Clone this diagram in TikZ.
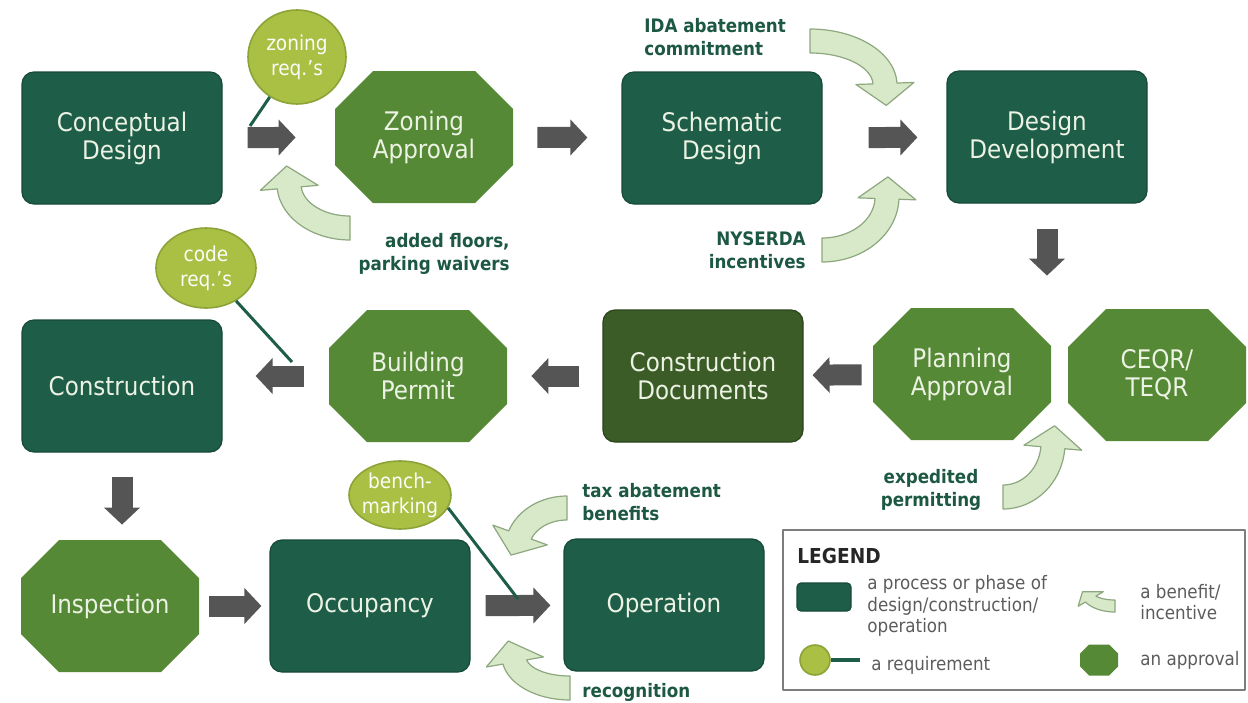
\documentclass[tikz,border=0pt]{standalone}
\usepackage{fontspec}
\setmainfont{DejaVu Sans Condensed}
\usepackage{tikz}
\usetikzlibrary{arrows.meta,positioning,calc,shapes.geometric}
\definecolor{Phase}{HTML}{1E5D48}
\definecolor{PhaseEdge}{HTML}{17493A}
\definecolor{Docs}{HTML}{3B5C27}
\definecolor{DocsEdge}{HTML}{2A441B}
\definecolor{Approval}{HTML}{558936}
\definecolor{Req}{HTML}{A9C045}
\definecolor{ReqEdge}{HTML}{8CA338}
\definecolor{Perk}{HTML}{D7E9C8}
\definecolor{PerkEdge}{HTML}{8DA77F}
\definecolor{Flow}{HTML}{555555}
\definecolor{Note}{HTML}{1D5843}
\definecolor{Pale}{HTML}{EDF3E4}
\definecolor{Key}{HTML}{5C5C5C}
\newcommand{\boxfont}{\fontsize{12.8}{14}\selectfont}
\newcommand{\notefont}{\fontsize{9.3}{11.6}\selectfont\bfseries}
\newcommand{\reqfont}{\fontsize{10.3}{12.6}\selectfont}
\newcommand{\keyfont}{\fontsize{9.3}{10.8}\selectfont}
\newcommand{\perkw}{12}
\newcommand{\perkh}{29}
\newcommand{\perkl}{22}
% curved benefit arrow on an ellipse: centre x, centre y, radii, start and end angle
\newcommand{\perk}[6]{%
  \filldraw[perk]
    plot[domain=#5:#6,samples=30] ({#1+(#3+\perkw)*cos(\x)},{#2+(#4+\perkw)*sin(\x)})
    -- ({#1+(#3+\perkh)*cos(#6)},{#2+(#4+\perkh)*sin(#6)})
    -- ({#1+#3*cos(#6)+(#6-#5)/abs(#6-#5)*\perkl*cos(atan2(#4*cos(#6),-#3*sin(#6)))},{#2+#4*sin(#6)+(#6-#5)/abs(#6-#5)*\perkl*sin(atan2(#4*cos(#6),-#3*sin(#6)))})
    -- ({#1+(#3-\perkh)*cos(#6)},{#2+(#4-\perkh)*sin(#6)})
    -- plot[domain=#6:#5,samples=30] ({#1+(#3-\perkw)*cos(\x)},{#2+(#4-\perkw)*sin(\x)})
    -- cycle;}
% octagon inside the box of an approval node, #1 = corner cut
\newcommand{\octagon}[1]{%
  \fill[Approval] ([xshift=#1]path picture bounding box.north west)
    -- ([xshift=-#1]path picture bounding box.north east)
    -- ([yshift=-#1]path picture bounding box.north east)
    -- ([yshift=#1]path picture bounding box.south east)
    -- ([xshift=-#1]path picture bounding box.south east)
    -- ([xshift=#1]path picture bounding box.south west)
    -- ([yshift=#1]path picture bounding box.south west)
    -- ([yshift=-#1]path picture bounding box.north west) -- cycle;}
\tikzset{
  phase/.style={rectangle,rounded corners=6pt,fill=Phase,draw=PhaseEdge,line width=0.6pt,minimum width=100pt,minimum height=66pt,text=Pale,font=\boxfont,align=center,inner sep=2pt},
  approval/.style={rectangle,minimum width=89pt,minimum height=66pt,inner sep=2pt,text=Pale,font=\boxfont,align=center,path picture={\octagon{#1}}},
  approval/.default=19pt,
  req/.style={ellipse,fill=Req,draw=ReqEdge,line width=0.8pt,text=white!96!Req,font=\reqfont,align=center,inner sep=-2pt},
  flow/.style={draw=Flow,line width=10.5pt,-{Triangle[length=8.5pt,width=17.5pt]}},
  tie/.style={draw=Phase,line width=1.5pt},
  perk/.style={fill=Perk,draw=PerkEdge,line width=0.6pt,line join=round},
  note/.style={font=\notefont,text=Note,inner sep=0pt},
  key/.style={font=\keyfont,text=Key,inner sep=0pt,align=left,anchor=west},
}

\begin{document}
\begin{tikzpicture}[x=0.5pt,y=-0.5pt,line join=round]
\useasboundingbox (0,0) rectangle (1248,702);

% benefits
\perk{350}{184}{61}{44}{90}{175}
\perk{810}{85}{75}{44}{270}{358}
\perk{822}{197}{65}{53}{90}{2}
\perk{1003}{443}{50}{54}{90}{5}
\perk{567}{549}{50}{41}{270}{200}
\perk{570}{656.5}{56}{31.5}{90}{170}

% phases and approvals
\node[phase] (concept) at (122,138) {Conceptual\\Design};
\node[approval] (zoning) at (424,137) {Zoning\\Approval};
\node[phase] (schematic) at (722,138) {Schematic\\Design};
\node[phase] (devel) at (1047,137) {Design\\Development};
\node[phase] (constr) at (122,386) {Construction};
\node[approval] (permit) at (418,376) {Building\\Permit};
\node[phase,fill=Docs,draw=DocsEdge] (docs) at (703,376) {Construction\\Documents};
\node[approval] (planning) at (962,374) {Planning\\Approval};
\node[approval] (ceqr) at (1157,375) {CEQR/\\TEQR};
\node[approval] (inspect) at (110,606) {Inspection};
\node[phase] (occup) at (370,606) {Occupancy};
\node[phase] (operation) at (664,605) {Operation};

\draw[flow,shorten <=12.5pt,shorten >=19.5pt] (concept) -- (zoning);
\draw[flow,shorten <=12pt,shorten >=17pt] (zoning) -- (schematic);
\draw[flow,shorten <=23pt,shorten >=14.5pt] (schematic) -- (devel);
\draw[flow,shorten <=12.5pt,shorten >=16pt] (devel.south) -- (devel.south |- planning.north);
\draw[flow,shorten <=5.5pt,shorten >=4.5pt] (planning) -- (docs);
\draw[flow,shorten <=11.5pt,shorten >=12pt] (docs) -- (permit);
\draw[flow,shorten <=12.5pt,shorten >=16.5pt] (permit.west) -- (permit.west -| constr.east);
\draw[flow,shorten <=12pt,shorten >=7.5pt] (constr.south) -- (constr.south |- inspect.north);
\draw[flow,shorten <=5pt,shorten >=4pt] (inspect) -- (occup);
\draw[flow,shorten <=7.5pt,shorten >=6.5pt] (occup) -- (operation);

% requirements
\node[req,minimum width=49pt,minimum height=47pt] (zonreq) at (297,57) {zoning\\req.’s};
\node[req,minimum width=50pt,minimum height=40pt] (codereq) at (206,268) {code\\req.’s};
\node[req,minimum width=51pt,minimum height=34pt] (bench) at (400,495) {bench-\\marking};
\coordinate (zr) at (250,126);
\coordinate (cr) at (292,362);
\coordinate (bm) at (518,599);
\draw[tie] (zonreq) -- (zr);
\draw[tie] (codereq) -- (cr);
\draw[tie] (bench.-15) -- (bm);

\node[note,anchor=west,align=left] (ida) at (644,37) {IDA abatement\\commitment};
\node[note,anchor=east,align=right] (nyserda) at (806,250) {NYSERDA\\incentives};
\node[note,anchor=east,align=right] (floors) at (510,254) {added floors,\\parking waivers};
\node[note,align=center] (expedite) at (931,490) {expedited\\permitting};
\node[note,anchor=west,align=left] (taxben) at (582,502) {tax abatement\\benefits};
\node[note,anchor=west] (recog) at (582,692) {recognition};

% legend
\draw[draw=Key!80,line width=0.8pt] (783,530) rectangle (1245,690);
\node[anchor=west,inner sep=0pt,font=\fontsize{10.3}{12}\selectfont\bfseries,text=black!85] (legtitle) at (797,556) {LEGEND};
\node[phase,minimum width=27pt,minimum height=14pt,rounded corners=2pt] (legphase) at (824,597) {};
\node[key] (legphasetxt) at (867,606) {a process or phase of\\design/construction/\\operation};
\begin{scope}[shift={(1115,606)},scale=0.5]
\perk{0}{-28}{56}{28}{90}{150}
\end{scope}
\node[key] (legperktxt) at (1140,602) {a benefit/\\incentive};
\node[req,circle,minimum size=15pt] (legreq) at (815,660) {};
\coordinate (legreqend) at (860,660);
\draw[tie,line width=2pt] (legreq) -- (legreqend);
\node[key] (legreqtxt) at (871,665) {a requirement};
\node[approval=4.5pt,minimum width=19pt,minimum height=15.5pt] (legappr) at (1099,660) {};
\node[key] (legapprtxt) at (1140,660) {an approval};
\end{tikzpicture}
\end{document}
